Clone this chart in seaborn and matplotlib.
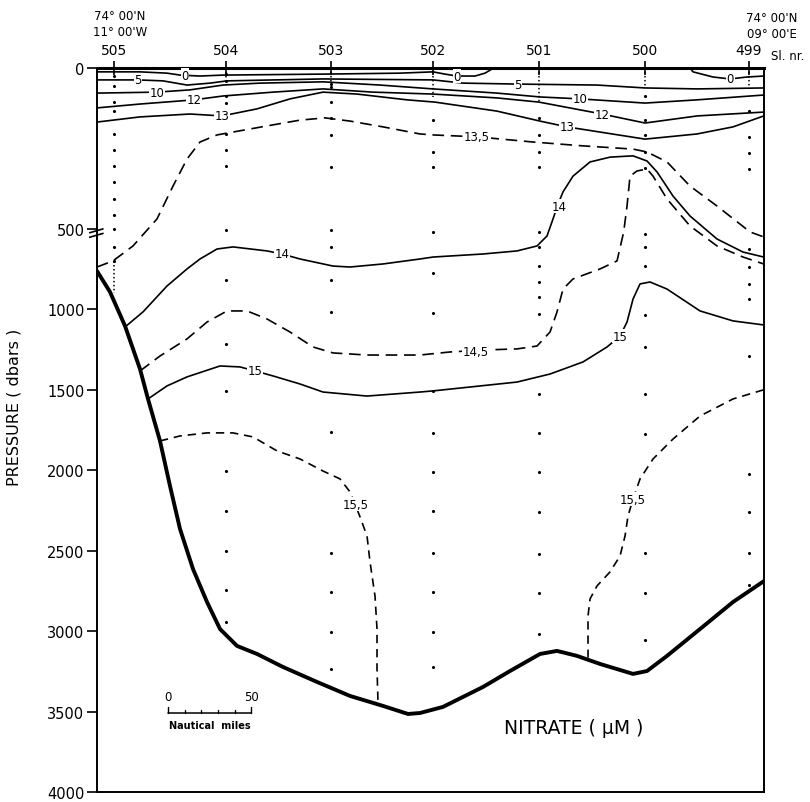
import numpy as np
import pandas as pd
import matplotlib
matplotlib.use("Agg")
import matplotlib.pyplot as plt
import seaborn as sns

# ---------------- data (distance in nautical miles, pressure in dbar) ----------------
stations = ["505", "504", "503", "502", "501", "500", "499"]
station_nm = [10.2, 77.4, 140.4, 201.6, 265.2, 328.8, 391.2]
pressure_ticks = [0, 500, 1000, 1500, 2000, 2500, 3000, 3500, 4000]

bottom_nm = [0, 7.8, 16.8, 25.8, 30.6, 37.8, 43.8, 49.8, 57.6, 66, 73.8, 84, 96, 111.6, 132,
             151.8, 171.6, 186.6, 193.8, 207.6, 231.6, 247.8, 265.8, 276, 288, 301.8, 321.6,
             330, 342, 361.8, 381.6, 400]
bottom_p = [762, 892, 1103, 1371, 1557, 1818, 2098, 2365, 2614, 2819, 2987, 3092, 3142, 3223, 3316,
            3403, 3465, 3515, 3509, 3471, 3347, 3248, 3142, 3123, 3154, 3204, 3266,
            3248, 3154, 2987, 2819, 2690]

c0a_nm = [0, 25.8, 42, 49.8, 61.8, 75.6, 135.6, 181.8, 201.6, 208.8, 216, 226.8, 232.8, 237, 238.8]
c0a_p = [12, 12, 16, 22, 25, 22, 19, 16, 12, 19, 25, 25, 16, 3, 0]
c0b_nm = [355.8, 357.6, 369.6, 379.8, 390, 400]
c0b_p = [0, 12, 28, 34, 28, 25]

c5_nm = [0, 24.6, 39.6, 54, 67.8, 78, 135.6, 201.6, 219.6, 252.6, 300, 328.8, 360, 400]
c5_p = [37, 37, 40, 53, 47, 40, 34, 37, 47, 50, 53, 62, 65, 62]

c10_nm = [0, 36, 55.8, 75.6, 97.8, 135.6, 169.8, 201.6, 240, 265.8, 289.8, 328.8, 360, 400]
c10_p = [78, 75, 68, 53, 47, 43, 53, 65, 78, 90, 96, 109, 99, 84]

c12_nm = [0, 25.8, 58.2, 75.6, 105.6, 135.6, 165.6, 201.6, 240, 265.2, 303, 328.8, 360, 400]
c12_p = [124, 112, 99, 87, 75, 65, 75, 81, 93, 106, 143, 171, 149, 137]

c13_nm = [0, 25.8, 55.8, 75, 96, 115.8, 135.6, 156, 186, 202.8, 240, 265.8, 282, 328.8, 360, 381.6, 400]
c13_p = [168, 152, 143, 149, 127, 96, 75, 81, 99, 106, 134, 165, 183, 221, 205, 183, 149]

c135_nm = [0, 9.6, 21.6, 36, 45.6, 54, 61.8, 72, 81.6, 102, 121.8, 136.8, 151.8, 171.6, 193.8,
           201.6, 228, 261.6, 291.6, 321.6, 330, 342, 355.8, 372, 391.8, 400]
c135_p = [737, 699, 606, 469, 367, 283, 230, 208, 199, 180, 162, 155, 165, 183, 205,
          208, 214, 230, 242, 252, 261, 292, 367, 429, 519, 550]

c14_nm = [16.8, 27.6, 42, 54, 61.8, 72, 81.6, 102, 111, 121.8, 141.6, 151.8, 171.6, 193.8, 201.6,
          231.6, 252, 264, 270, 273.6, 276.6, 279.6, 285.6, 295.8, 307.8, 321.6, 330, 336, 345.6,
          355.8, 372, 387.6, 400]
c14_p = [1110, 1016, 855, 749, 687, 625, 612, 637, 656, 687, 731, 737, 718, 687, 675,
         656, 637, 606, 544, 469, 423, 385, 336, 292, 277, 273, 289, 323, 398,
         460, 563, 644, 675]

c145_nm = [25.8, 37.8, 54, 66, 78, 90, 102, 115.8, 129.6, 141.6, 162, 193.8, 211.8, 231.6, 252,
           264, 271.8, 276, 279.6, 285.6, 301.8, 312, 316, 318, 319.8, 324, 330, 333.6, 342,
           355.8, 372, 387.6, 400]
c145_p = [1383, 1290, 1184, 1079, 1010, 1010, 1060, 1141, 1234, 1271, 1284, 1284, 1265, 1253, 1246,
          1228, 1141, 1016, 874, 811, 749, 699, 519, 429, 336, 320, 314, 336, 407,
          491, 606, 675, 718]

c15_nm = [30.6, 42, 54, 73.8, 85.8, 94.8, 105.6, 121.8, 135.6, 162, 193.8, 201.6, 252, 271.8,
          291.6, 306, 313.8, 318, 321.6, 325.8, 331.8, 342, 361.8, 381.6, 400]
c15_p = [1557, 1476, 1420, 1352, 1358, 1383, 1414, 1464, 1514, 1539, 1514, 1507, 1452, 1402,
         1327, 1234, 1166, 1079, 936, 842, 830, 874, 1010, 1072, 1097]

c155a_nm = [37.8, 49.8, 66, 81.6, 93.6, 108, 121.8, 135.6, 145.8, 151.8, 154.8, 157.8, 162,
            163.8, 166.8, 168, 168, 168.6]
c155a_p = [1818, 1787, 1768, 1768, 1793, 1880, 1930, 2005, 2054, 2135, 2210, 2290, 2409,
           2570, 2782, 2987, 3235, 3445]

c155b_nm = [400, 381.6, 361.8, 345.6, 333.6, 325.8, 321.6, 318.6, 316.8, 313.8, 307.8, 300,
            295.8, 294.6, 294.6]
c155b_p = [1500, 1557, 1663, 1806, 1930, 2054, 2179, 2284, 2409, 2533, 2632, 2719,
           2800, 2906, 3165]

label_text = ["0", "0", "0", "5", "5", "10", "10", "12", "12", "13", "13", "13,5",
              "14", "14", "14,5", "15", "15", "15,5", "15,5"]
label_nm = [52.8, 216, 380, 24.6, 252.6, 36, 289.8, 58.2, 303, 75, 282, 228,
            111, 277, 227, 94.8, 314, 155, 321.6]
label_p = [22, 25, 34, 37, 50, 75, 96, 99, 143, 149, 183, 214,
           656, 429, 1265, 1383, 1166, 2210, 2179]

s505 = [25, 56, 106, 134, 205, 255, 304, 354, 407, 457, 500, 612, 699]
s504 = [19, 40, 87, 109, 205, 255, 304, 510, 818, 1215, 1507, 2005, 2253, 2502, 2744, 2943]
s503 = [50, 59, 106, 155, 208, 308, 510, 612, 818, 1016, 1762, 2514, 2756, 3005, 3235]
s502 = [162, 261, 308, 519, 774, 1023, 1507, 1769, 2011, 2253, 2514, 2756, 3005, 3223]
s501 = [155, 208, 261, 308, 519, 612, 731, 830, 923, 1029, 1526, 1769, 2011, 2259, 2520, 2762, 3018]
s500 = [87, 162, 208, 261, 311, 532, 612, 731, 1035, 1234, 1526, 1775, 2514, 2762, 3055]
s499 = [134, 214, 264, 314, 625, 737, 842, 936, 1290, 2023, 2259, 2514, 2713]
samples = [s505, s504, s503, s502, s501, s500, s499]

# dense (dotted) sampling segments: station index, from, to
dotted_station = [0, 1, 2, 3, 4, 5, 6]
dotted_top = [700, 0, 0, 0, 0, 0, 0]
dotted_bot = [900, 40, 60, 90, 106, 56, 56]

scale_start_nm = 42.6
scale_ticks = [0, 10, 20, 30, 40, 50]

# ---------------- figure ----------------
sns.set_style("white")
plt.rcParams['font.family'] = ['DejaVu Sans']
plt.rcParams['text.color'] = 'black'
plt.rcParams['axes.labelcolor'] = 'black'
plt.rcParams['xtick.color'] = 'black'
plt.rcParams['ytick.color'] = 'black'

fig = plt.figure(figsize=(8.1, 8.03), dpi=100)
ax = fig.add_axes([97 / 810, 1 - 793 / 803, 666.7 / 810, 724 / 803])


def fwd(p):
    p = np.asarray(p, dtype=float)
    return np.where(p <= 500, 2 * p, p + 500)


def inv(u):
    u = np.asarray(u, dtype=float)
    return np.where(u <= 1000, u / 2, u - 500)


ax.set_yscale('function', functions=(fwd, inv))

solid = [(c0a_nm, c0a_p), (c0b_nm, c0b_p), (c5_nm, c5_p), (c10_nm, c10_p),
         (c12_nm, c12_p), (c13_nm, c13_p), (c14_nm, c14_p), (c15_nm, c15_p)]
dashed = [(c135_nm, c135_p, (7, 4)), (c145_nm, c145_p, (7, 4)),
          (c155a_nm, c155a_p, (5, 3.5)), (c155b_nm, c155b_p, (5, 3.5))]

for xs, ps in solid:
    sns.lineplot(x=xs, y=ps, ax=ax, sort=False, estimator=None, color='black', lw=1.2)
for xs, ps, dsh in dashed:
    sns.lineplot(x=xs, y=ps, ax=ax, sort=False, estimator=None, color='black', lw=1.2,
                 linestyle=(0, dsh))
sns.lineplot(x=bottom_nm, y=bottom_p, ax=ax, sort=False, estimator=None, color='black', lw=2.8)

# sample points
rows = []
for i, plist in enumerate(samples):
    for p in plist:
        rows.append({"nm": station_nm[i], "p": p})
sdf = pd.DataFrame(rows)
sns.scatterplot(data=sdf, x="nm", y="p", ax=ax, s=5, color='black', linewidth=0, zorder=3)

for i, top, bot in zip(dotted_station, dotted_top, dotted_bot):
    ax.plot([station_nm[i], station_nm[i]], [top, bot], color='black', lw=1.1,
            linestyle=(0, (1, 1.6)), zorder=3)

# inline contour labels
for t, x, p in zip(label_text, label_nm, label_p):
    ax.text(x, p, t, ha='center', va='center', fontsize=8.5, zorder=5,
            bbox=dict(facecolor='white', edgecolor='none', pad=0.4))

# axes
ax.set_xlim(0, 400)
ax.set_ylim(4000, 0)
ax.set_yticks(pressure_ticks)
ax.set_yticklabels([str(v) for v in pressure_ticks], fontsize=10.5)
ax.tick_params(axis='y', direction='out', length=7, width=1.2, left=True, pad=2)
ax.xaxis.tick_top()
ax.set_xticks(station_nm)
ax.set_xticklabels(stations, fontsize=10)
ax.tick_params(axis='x', direction='inout', length=10, width=1.2, top=True, bottom=False, pad=3)
ax.set_xlabel("")
ax.set_ylabel("PRESSURE ( dbars )", fontsize=11.5)
ax.yaxis.set_label_coords(-(97 - 22) / 666.7, 0.533)
for s in ['left', 'right', 'bottom']:
    ax.spines[s].set_linewidth(1.4)
    ax.spines[s].set_color('black')
ax.spines['top'].set_linewidth(2.2)
ax.spines['top'].set_color('black')

# axis-break marks at 500
for pb in (512, 540):
    ax.plot([-0.011, 0.009], [pb + 12, pb - 12], transform=ax.get_yaxis_transform(),
            color='black', lw=1.2, clip_on=False)

# station header texts
fig.text(120 / 810, 1 - 16 / 803, "74° 00'N", ha='center', va='center', fontsize=8.5)
fig.text(120 / 810, 1 - 32 / 803, "11° 00'W", ha='center', va='center', fontsize=8.5)
fig.text(772 / 810, 1 - 19 / 803, "74° 00'N", ha='center', va='center', fontsize=8.5)
fig.text(772 / 810, 1 - 34 / 803, "09° 00'E", ha='center', va='center', fontsize=8.5)
fig.text(788 / 810, 1 - 56 / 803, "Sl. nr.", ha='center', va='center', fontsize=8.5)

# scale bar
sb_x = [scale_start_nm + t for t in scale_ticks]
ax.plot([sb_x[0], sb_x[-1]], [3510, 3510], color='black', lw=1.1)
for k, xv in enumerate(sb_x):
    top_p = 3470 if k in (0, len(sb_x) - 1) else 3490
    ax.plot([xv, xv], [3510, top_p], color='black', lw=1.0)
ax.text(sb_x[0], 3405, "0", ha='center', va='center', fontsize=8.5)
ax.text(sb_x[-1], 3405, "50", ha='center', va='center', fontsize=8.5)
ax.text((sb_x[0] + sb_x[-1]) / 2, 3585, "Nautical  miles", ha='center', va='center',
        fontsize=7, fontweight='bold')

ax.text(286, 3600, "NITRATE ( μM )", ha='center', va='center', fontsize=13.5)

fig.savefig("out.png", dpi=100)
